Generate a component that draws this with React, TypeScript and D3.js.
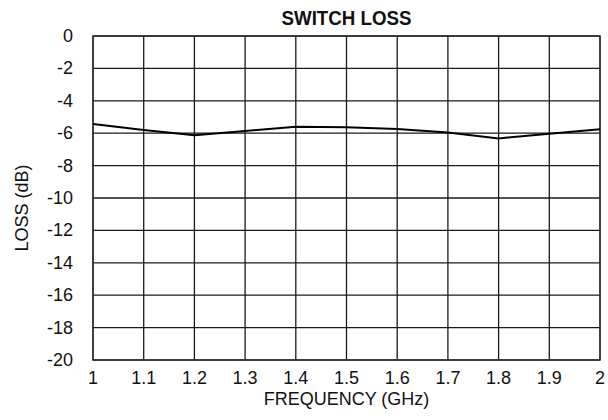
import * as d3 from 'd3';

const FREQ_GHZ = [1.0, 1.1, 1.2, 1.3, 1.4, 1.5, 1.6, 1.7, 1.8, 1.9, 2.0];
const LOSS_DB = [-5.43, -5.8, -6.13, -5.86, -5.6, -5.64, -5.74, -5.95, -6.32, -6.03, -5.76];
const X_TICKS = [1, 1.1, 1.2, 1.3, 1.4, 1.5, 1.6, 1.7, 1.8, 1.9, 2];
const X_TICK_LABELS = ['1', '1.1', '1.2', '1.3', '1.4', '1.5', '1.6', '1.7', '1.8', '1.9', '2'];
const Y_TICKS = [0, -2, -4, -6, -8, -10, -12, -14, -16, -18, -20];

const WIDTH = 608;
const HEIGHT = 420;
const margin = { top: 36, right: 8, bottom: 60, left: 93 };

export default function App() {
  const innerW = WIDTH - margin.left - margin.right;
  const innerH = HEIGHT - margin.top - margin.bottom;

  const x = d3.scaleLinear().domain([1, 2]).range([0, innerW]);
  const y = d3.scaleLinear().domain([-20, 0]).range([innerH, 0]);

  const line = d3
    .line<number>()
    .x((_, i) => x(FREQ_GHZ[i]))
    .y((d) => y(d));

  const font = '"Liberation Sans", Arial, sans-serif';

  return (
    <svg
      width={WIDTH}
      height={HEIGHT}
      style={{ position: 'absolute', left: 0, top: 0, background: '#fff' }}
    >
      <text
        x={margin.left + innerW / 2}
        y={25}
        textAnchor="middle"
        fontFamily='"Liberation Sans Narrow", "Arial Narrow", sans-serif'
        fontWeight="bold"
        fontSize={21}
        textLength={130}
        lengthAdjust="spacingAndGlyphs"
        fill="#111"
      >
        SWITCH LOSS
      </text>
      <g transform={`translate(${margin.left},${margin.top})`}>
        {/* grid */}
        {X_TICKS.map((t) => (
          <line key={'gx' + t} x1={x(t)} x2={x(t)} y1={0} y2={innerH} stroke="#1a1a1a" strokeWidth={1.3} />
        ))}
        {Y_TICKS.map((t) => (
          <line key={'gy' + t} x1={0} x2={innerW} y1={y(t)} y2={y(t)} stroke="#1a1a1a" strokeWidth={1.3} />
        ))}
        <rect x={0} y={0} width={innerW} height={innerH} fill="none" stroke="#333" strokeWidth={1.5} />

        <path d={line(LOSS_DB) || ''} fill="none" stroke="#000" strokeWidth={2} />

        {/* y ticks */}
        {Y_TICKS.map((t) => (
          <text
            key={'ly' + t}
            x={-20}
            y={y(t) + 6}
            textAnchor="end"
            fontFamily={font}
            fontSize={18}
            fill="#111"
          >
            {t}
          </text>
        ))}
        {/* x ticks */}
        {X_TICKS.map((t, i) => (
          <text
            key={'lx' + t}
            x={x(t)}
            y={innerH + 24}
            textAnchor="middle"
            fontFamily={font}
            fontSize={18}
            fill="#111"
          >
            {X_TICK_LABELS[i]}
          </text>
        ))}
        <text
          x={innerW / 2}
          y={innerH + 45}
          textAnchor="middle"
          fontFamily={font}
          fontSize={18}
          fill="#111"
        >
          FREQUENCY (GHz)
        </text>
        <text
          transform={`translate(${-65},${172}) rotate(-90)`}
          textAnchor="middle"
          fontFamily={font}
          fontSize={18}
          fill="#111"
        >
          LOSS (dB)
        </text>
      </g>
    </svg>
  );
}
